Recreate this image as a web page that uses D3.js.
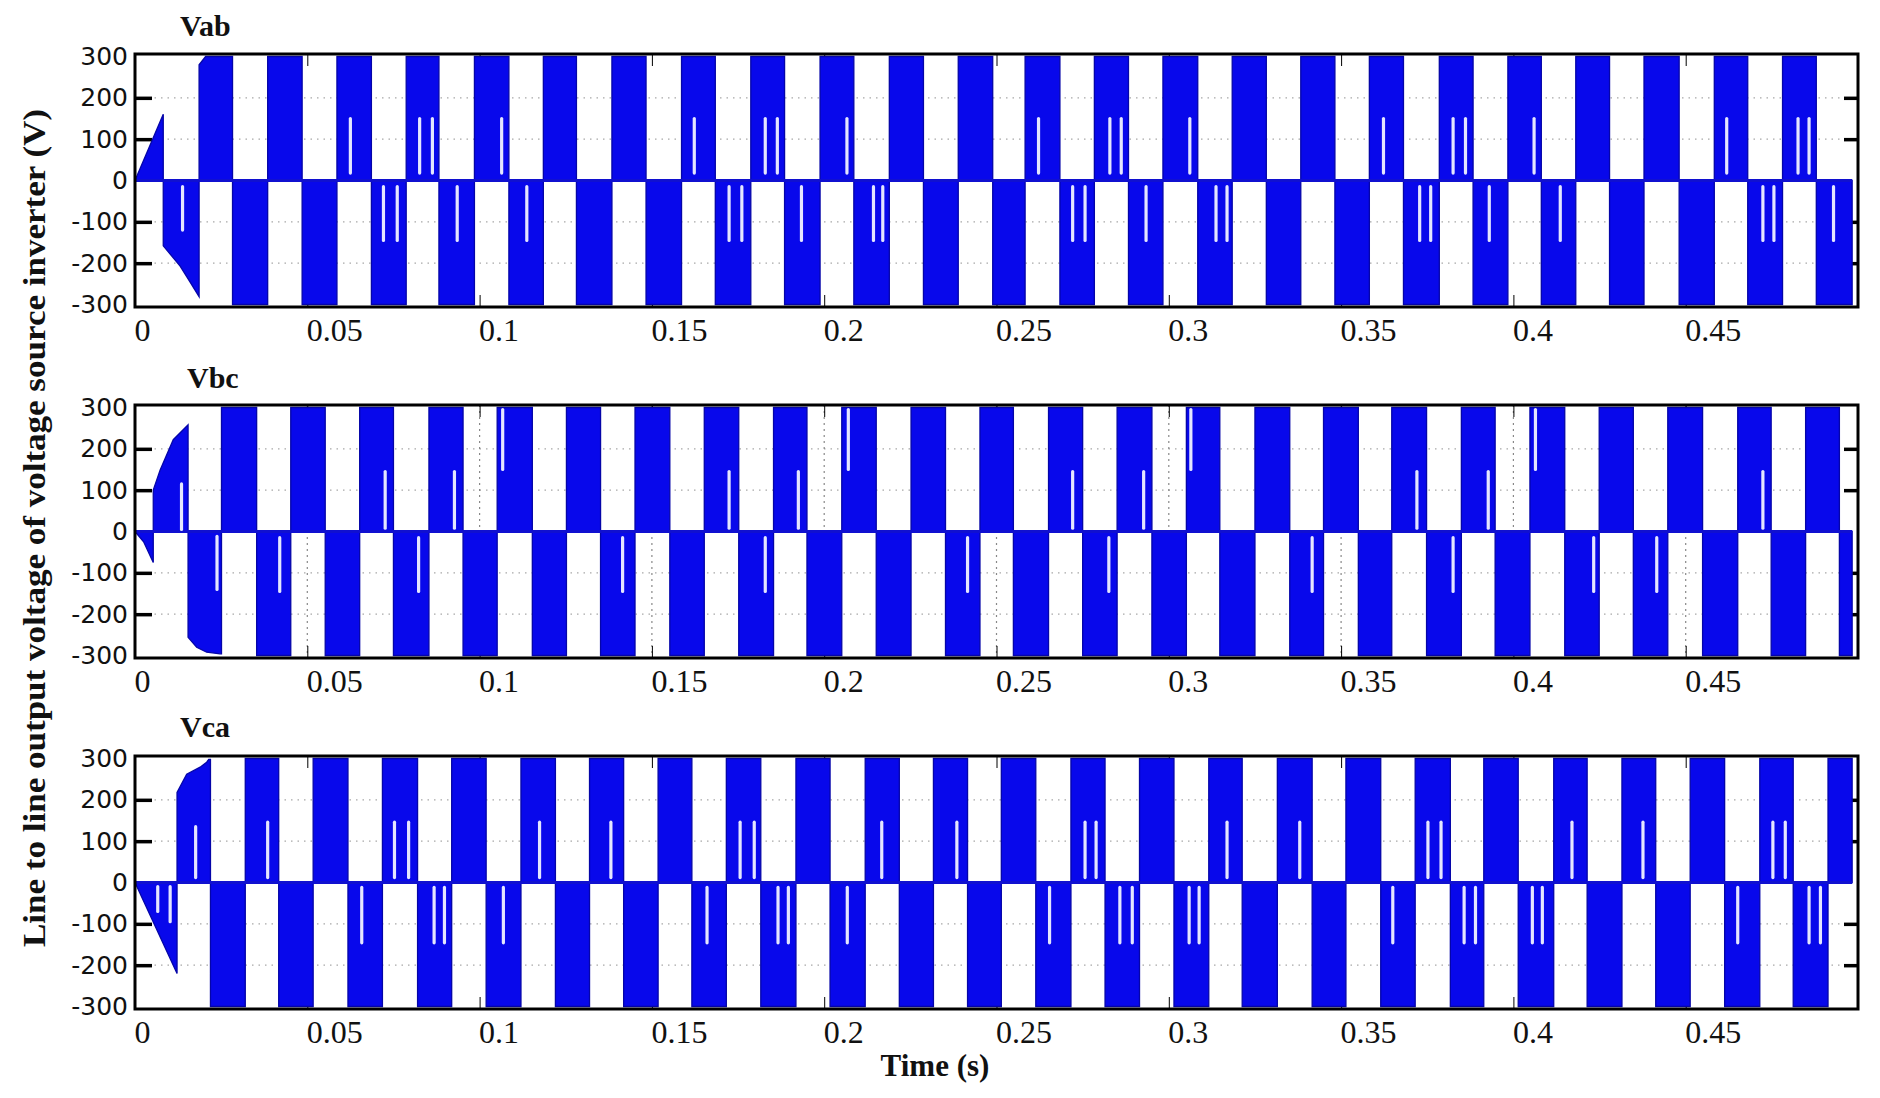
<!DOCTYPE html>
<html>
<head>
<meta charset="utf-8">
<script src="https://cdn.jsdelivr.net/npm/d3@7"></script>
<style>
  body { margin: 0; background: #fff; }
  .ylab { font-family: "DejaVu Sans", sans-serif; font-size: 25px; fill: #111; }
  .xlab { font-family: "Liberation Serif", serif; font-size: 32px; fill: #111; }
  .title { font-family: "Liberation Serif", serif; font-weight: bold; font-size: 30px; fill: #111; }
</style>
</head>
<body>
<div id="chart"></div>
<script>
// axis values
var xTicks = [0, 0.05, 0.1, 0.15, 0.2, 0.25, 0.3, 0.35, 0.4, 0.45];
var yTicks = [-300, -200, -100, 0, 100, 200, 300];
var tEnd = 0.4983;   // last sample (s)
var vdc = 300;       // step height (V)

// start-up transient of each line voltage, [t (s), v (V)]
var vabStart = [[0, 0], [0.0082, 160], [0.0082, -158], [0.0102, -178], [0.0131, -207], [0.016, -246], [0.0186, -281], [0.0186, 280], [0.0205, 300]];
var vbcStart = [[0, 0], [0.0025, -25], [0.0053, -75], [0.0053, 100], [0.0073, 149], [0.0111, 222], [0.0154, 258], [0.0154, -256], [0.0179, -280], [0.0208, -292], [0.0247, -296]];
var vcaStart = [[0, 0], [0.0122, -220], [0.0122, 218], [0.015, 262], [0.0189, 279], [0.0208, 291], [0.0214, 298]];

// switching instants after the transient (the voltage changes sign at each one)
var vabEdges = [0.0283, 0.0385, 0.0485, 0.0586, 0.0686, 0.0787, 0.0882, 0.0985, 0.1085, 0.1185, 0.1281, 0.1384, 0.1483, 0.1586, 0.1684, 0.1787,
  0.1885, 0.1988, 0.2086, 0.2189, 0.2288, 0.2389, 0.2489, 0.2583, 0.2684, 0.2784, 0.2883, 0.2983, 0.3084, 0.3184, 0.3283, 0.3383,
  0.3482, 0.3582, 0.3681, 0.3785, 0.3883, 0.3984, 0.4081, 0.4181, 0.4279, 0.4379, 0.4481, 0.4583, 0.4680, 0.4781, 0.4879];
var vbcEdges = [0.0251, 0.0353, 0.0452, 0.0552, 0.0652, 0.0750, 0.0853, 0.0952, 0.1051, 0.1153, 0.1252, 0.1351, 0.1451, 0.1552, 0.1652, 0.1752,
  0.1853, 0.1950, 0.2051, 0.2151, 0.2252, 0.2352, 0.2452, 0.2549, 0.2651, 0.2750, 0.2850, 0.2951, 0.3051, 0.3148, 0.3250, 0.3351,
  0.3449, 0.3550, 0.3647, 0.3748, 0.3849, 0.3947, 0.4048, 0.4149, 0.4249, 0.4348, 0.4448, 0.4549, 0.4651, 0.4748, 0.4848, 0.4946];
var vcaEdges = [0.0219, 0.0320, 0.0417, 0.0517, 0.0618, 0.0718, 0.0820, 0.0919, 0.1019, 0.1120, 0.1220, 0.1319, 0.1418, 0.1518, 0.1616, 0.1716,
  0.1816, 0.1918, 0.2017, 0.2119, 0.2218, 0.2317, 0.2416, 0.2514, 0.2614, 0.2716, 0.2815, 0.2915, 0.3015, 0.3116, 0.3213, 0.3315,
  0.3416, 0.3514, 0.3615, 0.3715, 0.3817, 0.3914, 0.4014, 0.4117, 0.4214, 0.4315, 0.4413, 0.4513, 0.4613, 0.4715, 0.4812, 0.4913];

// short gaps inside the blocks, [t, v from, v to]
var vabNotches = [[0.0138, -15, -120], [0.0625, 18, 150], [0.0721, -15, -145], [0.0761, -15, -145], [0.0826, 18, 150], [0.0863, 18, 150],
  [0.0935, -15, -145], [0.1064, 18, 150], [0.1137, -15, -145], [0.1623, 18, 150], [0.1724, -15, -145], [0.1761, -15, -145],
  [0.1829, 18, 150], [0.1864, 18, 150], [0.1934, -15, -145], [0.2066, 18, 150], [0.2143, -15, -145], [0.2170, -15, -145],
  [0.2622, 18, 150], [0.2721, -15, -145], [0.2757, -15, -145], [0.2829, 18, 150], [0.2862, 18, 150], [0.2934, -15, -145],
  [0.3061, 18, 150], [0.3137, -15, -145], [0.3169, -15, -145], [0.3623, 18, 150], [0.3728, -15, -145], [0.3760, -15, -145],
  [0.3825, 18, 150], [0.3861, 18, 150], [0.3930, -15, -145], [0.4060, 18, 150], [0.4136, -15, -145], [0.4619, 18, 150],
  [0.4724, -15, -145], [0.4756, -15, -145], [0.4826, 18, 150], [0.4858, 18, 150], [0.4929, -15, -145]];
var vbcNotches = [[0.0135, 5, 115], [0.0238, -12, -140], [0.0420, -15, -145], [0.0726, 8, 145], [0.0823, -15, -145], [0.0927, 8, 145],
  [0.1067, 295, 150], [0.1415, -15, -145], [0.1724, 8, 145], [0.1829, -15, -145], [0.1925, 8, 145], [0.2070, 295, 150],
  [0.2416, -15, -145], [0.2721, 8, 145], [0.2826, -15, -145], [0.2927, 8, 145], [0.3064, 295, 150], [0.3416, -15, -145],
  [0.3720, 8, 145], [0.3825, -15, -145], [0.3927, 8, 145], [0.4064, 295, 150], [0.4233, -15, -145], [0.4416, -15, -145], [0.4724, 8, 145]];
var vcaNotches = [[0.0066, -10, -70], [0.0102, -10, -95], [0.0176, 12, 135], [0.0385, 12, 146], [0.0658, -12, -146], [0.0753, 12, 146],
  [0.0794, 12, 146], [0.0868, -12, -146], [0.0898, -12, -146], [0.1069, -12, -146], [0.1174, 12, 146], [0.1381, 12, 146],
  [0.1660, -12, -146], [0.1756, 12, 146], [0.1797, 12, 146], [0.1866, -12, -146], [0.1896, -12, -146], [0.2067, -12, -146],
  [0.2167, 12, 146], [0.2385, 12, 146], [0.2654, -12, -146], [0.2757, 12, 146], [0.2789, 12, 146], [0.2858, -12, -146],
  [0.2894, -12, -146], [0.3059, -12, -146], [0.3088, -12, -146], [0.3169, 12, 146], [0.3380, 12, 146], [0.3650, -12, -146],
  [0.3752, 12, 146], [0.3790, 12, 146], [0.3857, -12, -146], [0.3890, -12, -146], [0.4055, -12, -146], [0.4084, -12, -146],
  [0.4170, 12, 146], [0.4376, 12, 146], [0.4651, -12, -146], [0.4753, 12, 146], [0.4789, 12, 146], [0.4858, -12, -146], [0.4891, -12, -146]];

var panels = [
  {name: "Vab", start: vabStart, edges: vabEdges, notches: vabNotches, top: 54, titleX: 180, titleY: 36, vgrid: false},
  {name: "Vbc", start: vbcStart, edges: vbcEdges, notches: vbcNotches, top: 405, titleX: 187, titleY: 388, vgrid: true},
  {name: "Vca", start: vcaStart, edges: vcaEdges, notches: vcaNotches, top: 756, titleX: 180, titleY: 737, vgrid: false}
];

var width = 1880, height = 1098;
var left = 135, right = 1858, ph = 253;
var blue = "#0808eb";

var svg = d3.select("#chart").append("svg")
  .attr("width", width)
  .attr("height", height);

var x = d3.scaleLinear().domain([0, 0.5]).range([left, right]);

// turn transient + switching instants into the outline of the waveform
function waveform(start, edges) {
  var pts = start.slice();
  var level = start[start.length - 1][1];
  edges.forEach(function (t) {
    pts.push([t, level]);
    level = level > 0 ? -vdc : vdc;
    pts.push([t, level]);
  });
  pts.push([tEnd, level], [tEnd, 0]);
  return pts;
}

function noDomain(g) { g.select(".domain").remove(); }

panels.forEach(function (p) {
  var top = p.top;
  var y = d3.scaleLinear().domain([-306, 306]).range([top + ph, top]);
  var g = svg.append("g");

  // dotted grid (only shows in the white gaps)
  g.selectAll(".hgrid").data([-200, -100, 100, 200]).enter().append("line")
    .attr("x1", left).attr("x2", right)
    .attr("y1", function (d) { return y(d); })
    .attr("y2", function (d) { return y(d); })
    .attr("stroke", "#a8a8a8").attr("stroke-width", 1.2)
    .attr("stroke-dasharray", "1.5,5");
  if (p.vgrid) {
    g.selectAll(".vgrid").data(xTicks.slice(1)).enter().append("line")
      .attr("x1", function (d) { return x(d); })
      .attr("x2", function (d) { return x(d); })
      .attr("y1", top).attr("y2", top + ph)
      .attr("stroke", "#888").attr("stroke-width", 1.2)
      .attr("stroke-dasharray", "2,4");
  }

  // inner tick marks
  g.append("g").attr("transform", "translate(0," + (top + ph) + ")")
    .call(d3.axisTop(x).tickValues(xTicks).tickSize(12).tickFormat(""))
    .call(noDomain);
  g.append("g").attr("transform", "translate(0," + top + ")")
    .call(d3.axisBottom(x).tickValues(xTicks).tickSize(12).tickFormat(""))
    .call(noDomain);
  g.append("g").attr("transform", "translate(" + left + ",0)")
    .call(d3.axisRight(y).tickValues([-200, -100, 100, 200]).tickSize(17).tickFormat(""))
    .call(noDomain)
    .selectAll("line").attr("stroke-width", 3.5);
  g.append("g").attr("transform", "translate(" + right + ",0)")
    .call(d3.axisLeft(y).tickValues([-200, -100, 100, 200]).tickSize(14).tickFormat(""))
    .call(noDomain)
    .selectAll("line").attr("stroke-width", 3.5);

  // waveform
  var area = d3.area()
    .x(function (d) { return x(d[0]); })
    .y0(y(0))
    .y1(function (d) { return y(d[1]); });
  g.append("path")
    .datum(waveform(p.start, p.edges))
    .attr("d", area)
    .attr("fill", blue)
    .attr("stroke", "#0505a8")
    .attr("stroke-width", 1.3);

  g.append("line")
    .attr("x1", x(0)).attr("x2", x(tEnd))
    .attr("y1", y(0)).attr("y2", y(0))
    .attr("stroke", "#1010d0").attr("stroke-width", 3);

  g.selectAll(".notch").data(p.notches).enter().append("line")
    .attr("x1", function (d) { return x(d[0]); })
    .attr("x2", function (d) { return x(d[0]); })
    .attr("y1", function (d) { return y(d[1]); })
    .attr("y2", function (d) { return y(d[2]); })
    .attr("stroke", "#e4e6ff").attr("stroke-width", 3.2)
    .attr("stroke-linecap", "round");

  // frame
  g.append("rect")
    .attr("x", left).attr("y", top)
    .attr("width", right - left).attr("height", ph)
    .attr("fill", "none").attr("stroke", "#000").attr("stroke-width", 3);

  // tick labels
  g.append("g").attr("transform", "translate(" + left + ",0)")
    .call(d3.axisLeft(y).tickValues(yTicks).tickSize(0).tickPadding(7)
      .tickFormat(function (d) { return String(d); }))
    .call(noDomain)
    .selectAll("text").attr("class", "ylab");
  g.append("g").attr("transform", "translate(0," + (top + ph) + ")")
    .call(d3.axisBottom(x).tickValues(xTicks).tickSize(0).tickPadding(11)
      .tickFormat(function (d) { return String(d); }))
    .call(noDomain)
    .selectAll("text").attr("class", "xlab")
    .attr("text-anchor", "start").attr("x", -1);

  g.append("text").attr("class", "title")
    .attr("x", p.titleX).attr("y", p.titleY)
    .text(p.name);
});

svg.append("text")
  .attr("transform", "translate(45,528) rotate(-90)")
  .attr("text-anchor", "middle")
  .attr("textLength", 838).attr("lengthAdjust", "spacingAndGlyphs")
  .style("font-family", "'Liberation Serif', serif")
  .style("font-weight", "bold").style("font-size", "31px").style("fill", "#111")
  .text("Line to line output voltage of voltage source inverter (V)");

svg.append("text")
  .attr("x", 935).attr("y", 1076)
  .attr("text-anchor", "middle")
  .style("font-family", "'Liberation Serif', serif")
  .style("font-weight", "bold").style("font-size", "31px").style("fill", "#111")
  .text("Time (s)");
</script>
</body>
</html>
